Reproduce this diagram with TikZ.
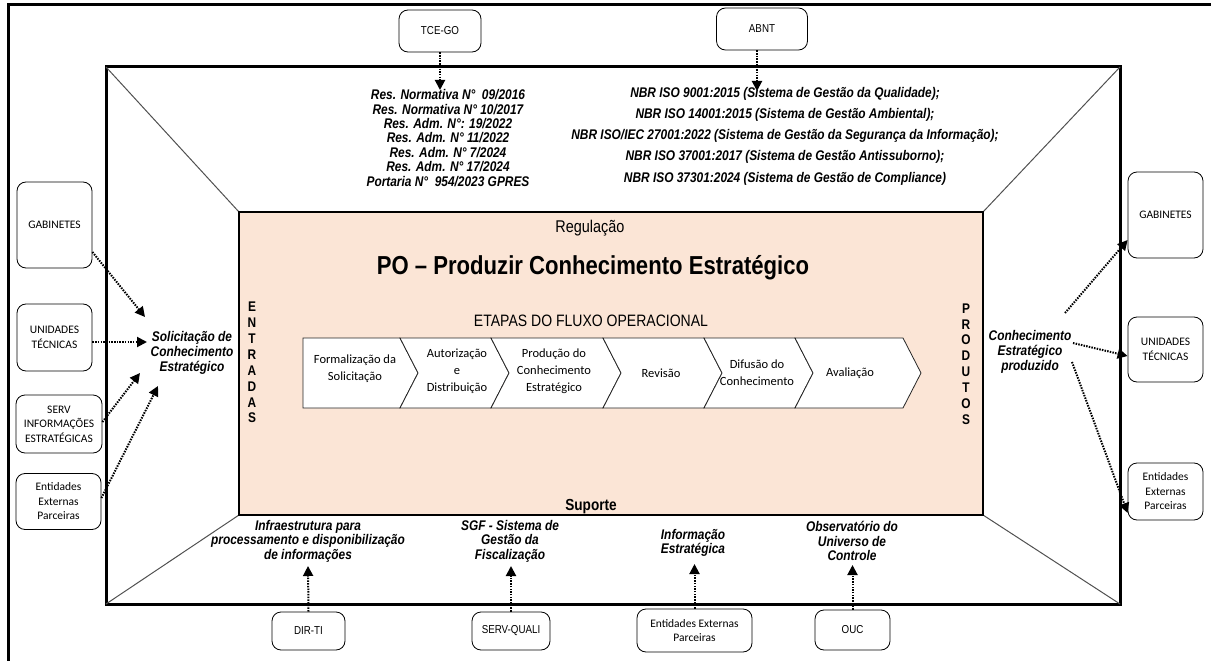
\documentclass[tikz,border=0pt]{standalone}
\usepackage{fontspec}
\setmainfont{Carlito}
\newfontfamily\nar[FakeStretch=0.85]{Liberation Sans}
\usetikzlibrary{arrows.meta}
\definecolor{peach}{HTML}{FBE5D6}
\definecolor{diag}{HTML}{505050}
\begin{document}
\begin{tikzpicture}[x=1pt,y=-1pt,
  box/.style={draw, rounded corners=9pt, line width=0.8pt, align=center, inner sep=0pt,
    font=\fontsize{11.5}{14.5}\selectfont},
  lbl/.style={align=center, inner sep=0pt, font=\nar\bfseries\itshape\fontsize{14}{14.4}\selectfont},
  dotarrow/.style={line width=2pt, dash pattern=on 1.5pt off 1.2pt, -{Triangle[length=10pt,width=10pt]}},
  chev/.style={draw=black!85, line width=0.8pt, fill=white},
  chevtxt/.style={align=center, inner sep=0pt, font=\fontsize{12.5}{17}\selectfont},
  vert/.style={align=center, inner sep=0pt, font=\nar\bfseries\fontsize{14}{15.9}\selectfont},
  diagline/.style={draw=diag, line width=1pt}
]
\useasboundingbox (0,0) rectangle (1211,661);
% outer frame (cropped)
\draw[line width=3pt] (1220,5) -- (8,5) -- (8,670);
% inner frame
\draw[line width=3pt] (106,67) rectangle (1120,604);
% diagonals
\draw[diagline] (106,67) -- (239,212);
\draw[diagline] (1120,67) -- (983,212);
\draw[diagline] (106,604) -- (239,515);
\draw[diagline] (1120,604) -- (983,515);
% peach process box
\draw[fill=peach, line width=2pt] (239,212) rectangle (983,515);

\node[inner sep=0pt, font=\nar\fontsize{17}{18}\selectfont] (reg) at (590,228) {Regulação};
\node[inner sep=0pt, font=\nar\bfseries\fontsize{26}{28}\selectfont] (title) at (593,268) {PO – Produzir Conhecimento Estratégico};
\node[inner sep=0pt, font=\nar\fontsize{16.5}{18}\selectfont] (etapas) at (591,321) {ETAPAS DO FLUXO OPERACIONAL};
\node[inner sep=0pt, font=\nar\bfseries\fontsize{16}{18}\selectfont] (sup) at (591,507) {Suporte};
\node[vert] (entr) at (252,362.5) {E\\N\\T\\R\\A\\D\\A\\S};
\node[vert] (prod) at (966,364) {P\\R\\O\\D\\U\\T\\O\\S};

% chevrons
\def\cy{338}\def\cb{408}\def\cm{373}
\path[chev] (303,\cy) -- (400,\cy) -- (418,\cm) -- (400,\cb) -- (303,\cb) -- cycle;
\path[chev] (400,\cy) -- (491,\cy) -- (509,\cm) -- (491,\cb) -- (400,\cb) -- (418,\cm) -- cycle;
\path[chev] (491,\cy) -- (603,\cy) -- (621,\cm) -- (603,\cb) -- (491,\cb) -- (509,\cm) -- cycle;
\path[chev] (603,\cy) -- (704,\cy) -- (722,\cm) -- (704,\cb) -- (603,\cb) -- (621,\cm) -- cycle;
\path[chev] (704,\cy) -- (795,\cy) -- (813,\cm) -- (795,\cb) -- (704,\cb) -- (722,\cm) -- cycle;
\path[chev] (795,\cy) -- (903,\cy) -- (921,\cm) -- (903,\cb) -- (795,\cb) -- (813,\cm) -- cycle;
\node[chevtxt] (c1) at (355,369) {Formalização da\\Solicitação};
\node[chevtxt] (c2) at (457,371) {Autorização\\e\\Distribuição};
\node[chevtxt] (c3) at (554,371) {Produção do\\Conhecimento\\Estratégico};
\node[chevtxt] (c4) at (661,373) {Revisão};
\node[chevtxt] (c5) at (757,373) {Difusão do\\Conhecimento};
\node[chevtxt] (c6) at (850,373) {Avaliação};

% top sources
\node[box, minimum width=82pt, minimum height=42pt] (tce) at (440,31) {\nar TCE-GO};
\node[box, minimum width=91pt, minimum height=42pt] (abnt) at (762,29) {\nar ABNT};
\node[lbl] (tcelist) at (448,138) {Res. Normativa N°\ \ 09/2016\\Res. Normativa N° 10/2017\\Res. Adm. N°: 19/2022\\Res. Adm. N° 11/2022\\Res. Adm. N° 7/2024\\Res. Adm. N° 17/2024\\Portaria N°\ \ 954/2023 GPRES};
\node[lbl, font=\nar\bfseries\itshape\fontsize{14}{21.2}\selectfont] (abntlist) at (785,136) {NBR ISO 9001:2015 (Sistema de Gestão da Qualidade);\\NBR ISO 14001:2015 (Sistema de Gestão Ambiental);\\NBR ISO/IEC 27001:2022 (Sistema de Gestão da Segurança da Informação);\\NBR ISO 37001:2017 (Sistema de Gestão Antissuborno);\\NBR ISO 37301:2024 (Sistema de Gestão de Compliance)};
\coordinate (tceT) at (440,90);
\coordinate (abntT) at (757,91);
\draw[dotarrow] (tce.south) -- (tceT);
\draw[dotarrow] (abnt.south -| abntT) -- (abntT);

% left inputs
\node[box, minimum width=75pt, minimum height=86pt] (gabL) at (54.5,225) {GABINETES};
\node[box, minimum width=75pt, minimum height=67pt] (uniL) at (54.5,337.5) {UNIDADES\\TÉCNICAS};
\node[box, minimum width=86pt, minimum height=58pt] (servL) at (59,424) {SERV\\INFORMAÇÕES\\ESTRATÉGICAS};
\node[box, minimum width=85pt, minimum height=56pt] (entL) at (58.5,501.5) {Entidades\\Externas\\Parceiras};
\node[lbl, font=\nar\bfseries\itshape\fontsize{14}{15}\selectfont] (sol) at (192,353) {Solicitação de\\Conhecimento\\Estratégico};
\coordinate (solA) at (145,317);
\coordinate (solB) at (147,342);
\coordinate (solC) at (140,373);
\coordinate (solD) at (158,386);
\draw[dotarrow] ([yshift=-27pt]gabL.east) -- (solA);
\draw[dotarrow] ([yshift=-4.5pt]uniL.east) -- (solB);
\draw[dotarrow] ([yshift=2pt]servL.east) -- (solC);
\draw[dotarrow] ([yshift=3.5pt]entL.east) -- (solD);

% right outputs
\node[box, minimum width=75pt, minimum height=86pt] (gabR) at (1165.5,215) {GABINETES};
\node[box, minimum width=75pt, minimum height=65pt] (uniR) at (1165.5,349.5) {UNIDADES\\TÉCNICAS};
\node[box, minimum width=75pt, minimum height=57pt] (entR) at (1165.5,491.5) {Entidades\\Externas\\Parceiras};
\node[lbl, font=\nar\bfseries\itshape\fontsize{14}{15}\selectfont] (conh) at (1030,352) {Conhecimento\\Estratégico\\produzido};
\coordinate (cA) at (1065,313);
\coordinate (cB) at (1073,343);
\coordinate (cC) at (1072,362);
\draw[dotarrow] (cA) -- ([yshift=-25pt]gabR.west);
\draw[dotarrow] (cB) -- ([yshift=-6.5pt]uniR.west);
\draw[dotarrow] (cC) -- ([yshift=-21.5pt]entR.west);

% bottom supports
\node[lbl] (infra) at (308,541) {Infraestrutura para\\processamento e disponibilização\\de informações};
\node[lbl] (sgf) at (510,541) {SGF - Sistema de\\Gestão da\\Fiscalização};
\node[lbl] (info) at (693,543) {Informação\\Estratégica};
\node[lbl] (obs) at (852,541) {Observatório do\\Universo de\\Controle};
\node[box, minimum width=73pt, minimum height=38pt] (dirti) at (308.5,631) {\nar DIR-TI};
\node[box, minimum width=78pt, minimum height=38pt] (servq) at (511,631) {\nar SERV-QUALI};
\node[box, minimum width=115pt, minimum height=43pt] (entB) at (694.5,630.5) {Entidades Externas\\Parceiras};
\node[box, minimum width=75pt, minimum height=40pt] (ouc) at (852.5,630) {\nar OUC};
\draw[dotarrow] (dirti.north) -- (infra.south |- 0,566);
\draw[dotarrow] (servq.north) -- (servq.north |- 0,566);
\draw[dotarrow] (entB.north) -- (entB.north |- 0,564);
\draw[dotarrow] (ouc.north) -- (ouc.north |- 0,565);
\end{tikzpicture}
\end{document}
